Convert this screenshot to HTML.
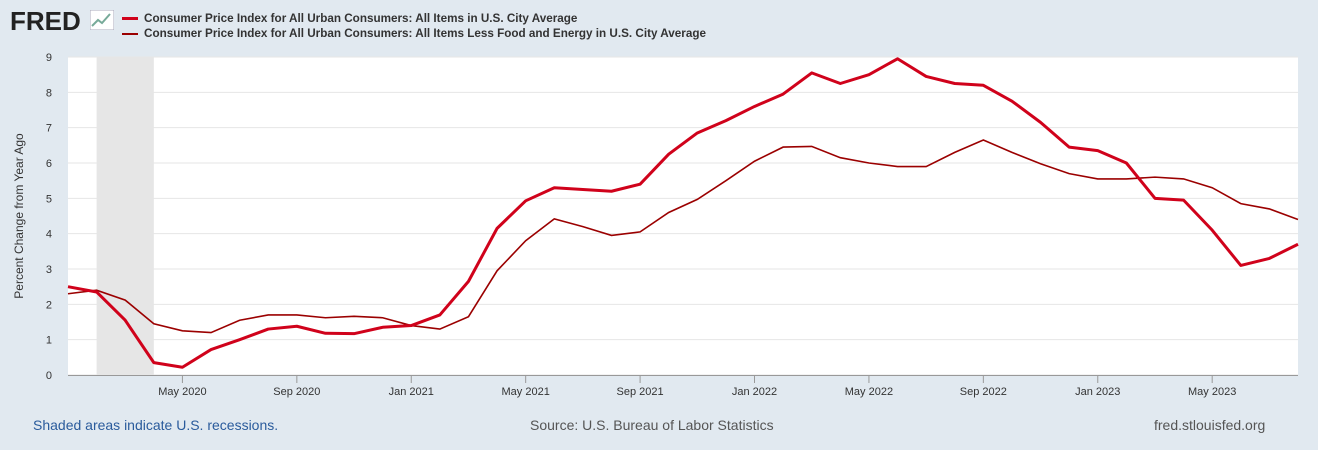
<!DOCTYPE html>
<html><head><meta charset="utf-8"><style>
body{margin:0;width:1318px;height:450px;background:#e1e9f0;font-family:"Liberation Sans",sans-serif;overflow:hidden;position:relative}
.t{position:absolute;white-space:nowrap}
</style></head><body>
<div class="t" style="left:10px;top:6px;font-size:26px;font-weight:bold;color:#222;letter-spacing:0px">FRED</div>
<svg class="t" style="left:90px;top:10px" width="24" height="20"><rect x="0" y="0" width="24" height="20" fill="#fff" stroke="#aab"/><polyline points="2,16 8,10 12,13 20,4" fill="none" stroke="#7a9" stroke-width="2"/></svg>
<div>
<div class="t" style="left:122px;top:12px;font-size:11.7px;font-weight:bold;color:#333"><span style="display:inline-block;width:16px;height:3px;background:#d0021b;vertical-align:middle;margin-right:6px"></span>Consumer Price Index for All Urban Consumers: All Items in U.S. City Average</div>
<div class="t" style="left:122px;top:27px;font-size:11.7px;font-weight:bold;color:#333"><span style="display:inline-block;width:16px;height:2px;background:#9b0000;vertical-align:middle;margin-right:6px"></span>Consumer Price Index for All Urban Consumers: All Items Less Food and Energy in U.S. City Average</div>
</div>
<svg id="c" class="t" style="left:0;top:0" width="1318" height="450"></svg>
<div class="t" style="left:33px;top:417px;font-size:14px;color:#2a5b9c">Shaded areas indicate U.S. recessions.</div>
<div class="t" style="left:530px;top:417px;font-size:14px;color:#555">Source: U.S. Bureau of Labor Statistics</div>
<div class="t" style="left:1154px;top:417px;font-size:14px;color:#555">fred.stlouisfed.org</div>
<script>
const cpi=[2.5,2.35,1.55,0.35,0.22,0.72,1.0,1.3,1.38,1.18,1.17,1.35,1.4,1.7,2.65,4.15,4.93,5.3,5.25,5.2,5.4,6.25,6.85,7.2,7.6,7.95,8.55,8.25,8.5,8.95,8.45,8.25,8.2,7.75,7.15,6.45,6.35,6.0,5.0,4.95,4.1,3.1,3.3,3.7];
const core=[2.3,2.4,2.12,1.45,1.25,1.2,1.55,1.7,1.7,1.62,1.66,1.62,1.4,1.3,1.65,2.95,3.8,4.42,4.2,3.95,4.05,4.6,4.97,5.5,6.05,6.45,6.47,6.15,6.0,5.9,5.9,6.3,6.65,6.3,5.98,5.7,5.55,5.55,5.6,5.55,5.3,4.85,4.7,4.4];
const yTicks=[0,1,2,3,4,5,6,7,8,9];
const xTickIdx=[4,8,12,16,20,24,28,32,36,40];
const xTickLabels=["May 2020","Sep 2020","Jan 2021","May 2021","Sep 2021","Jan 2022","May 2022","Sep 2022","Jan 2023","May 2023"];
const recession=[1,3];
const L=68,R=1298,T=57,B=375,N=cpi.length;
const x=i=>L+i*(R-L)/(N-1), y=v=>B-v*(B-T)/9;
const s=document.getElementById('c');const ns='http://www.w3.org/2000/svg';
function add(tag,a,txt){const e=document.createElementNS(ns,tag);for(const k in a)e.setAttribute(k,a[k]);if(txt!=null)e.textContent=txt;s.appendChild(e);return e;}
let e=add('rect',{x:L,y:T,width:R-L,height:B-T,fill:'#fff'});

e=add('rect',{x:x(recession[0]),y:T,width:x(recession[1])-x(recession[0]),height:B-T,fill:'#e6e6e6'});

yTicks.forEach(v=>{
 e=add('line',{x1:L,x2:R,y1:y(v),y2:y(v),stroke:'#e6e6e6'});
 
 e=add('text',{x:52,y:y(v)+4,'font-size':11,fill:'#333','text-anchor':'end'},v);
 
});
e=add('line',{x1:L,x2:R,y1:B+0.5,y2:B+0.5,stroke:'#999'});

xTickIdx.forEach((i,k)=>{
 e=add('line',{x1:x(i),x2:x(i),y1:B,y2:B+8,stroke:'#999'});
 
 e=add('text',{x:x(i),y:B+20,'font-size':11,fill:'#333','text-anchor':'middle'},xTickLabels[k]);
 
});
e=add('text',{x:0,y:0,'font-size':12,fill:'#333','text-anchor':'middle',transform:'translate(23,216) rotate(-90)'},'Percent Change from Year Ago');

e=add('polyline',{points:core.map((v,i)=>x(i)+','+y(v)).join(' '),fill:'none',stroke:'#9b0000','stroke-width':1.6});

e=add('polyline',{points:cpi.map((v,i)=>x(i)+','+y(v)).join(' '),fill:'none',stroke:'#d0021b','stroke-width':3,'stroke-linejoin':'round'});

</script>
</body></html>
